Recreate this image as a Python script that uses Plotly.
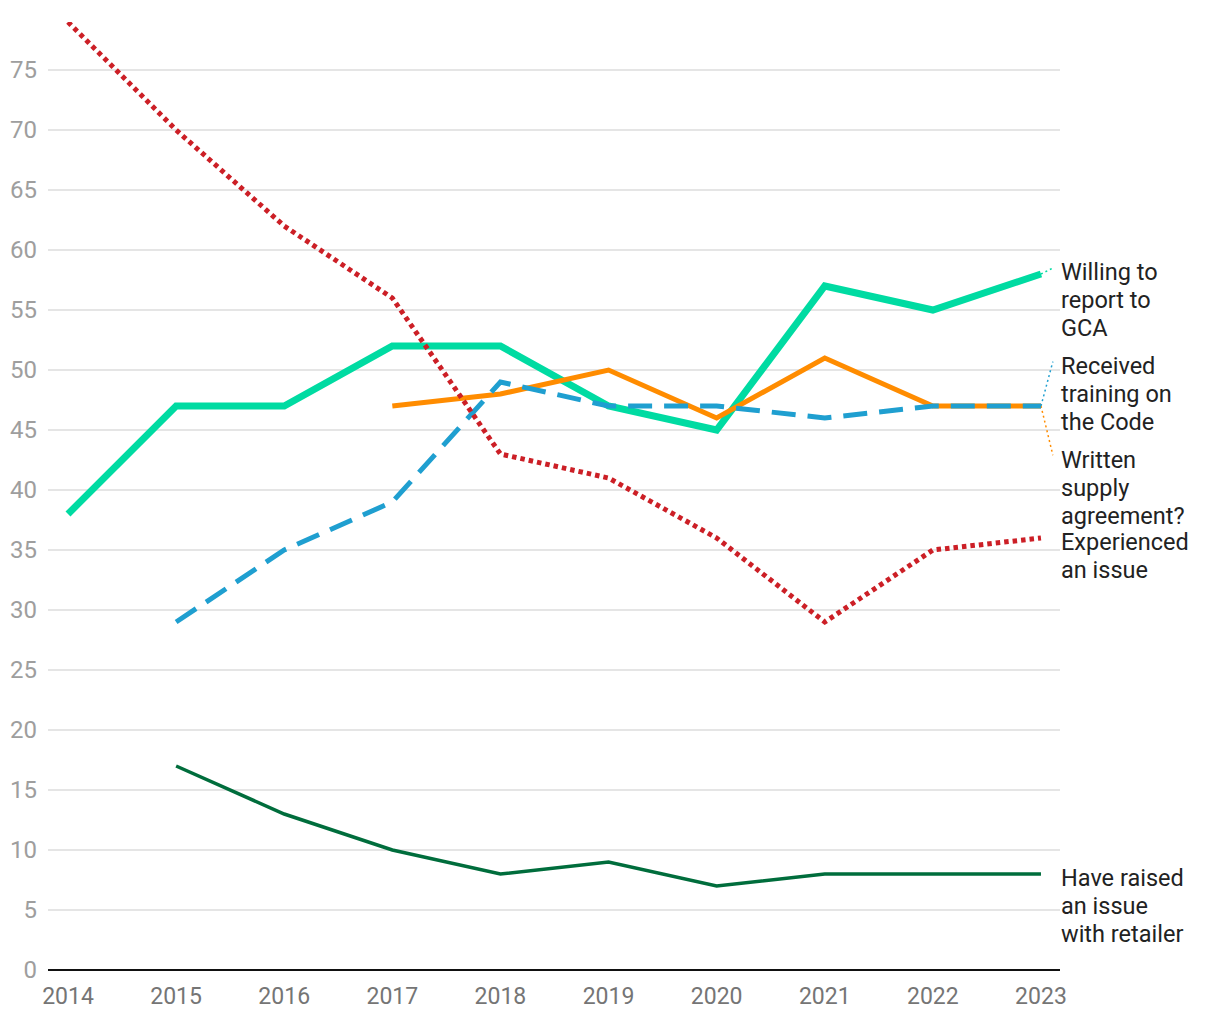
import plotly.graph_objects as go

years = [2014, 2015, 2016, 2017, 2018, 2019, 2020, 2021, 2022, 2023]

willing = [38, 47, 47, 52, 52, 47, 45, 57, 55, 58]
training = [None, 29, 35, 39, 49, 47, 47, 46, 47, 47]
written = [None, None, None, 47, 48, 50, 46, 51, 47, 47]
experienced = [79, 70, 62, 56, 43, 41, 36, 29, 35, 36]
raised = [None, 17, 13, 10, 8, 9, 7, 8, 8, 8]

labels = [["Willing to", "report to", "GCA"],
          ["Received", "training on", "the Code"],
          ["Written", "supply", "agreement?"],
          ["Experienced", "an issue"],
          ["Have raised", "an issue", "with retailer"]]
label_y = [58.17, 50.33, 42.5, 35.67, 7.67]     # centre of first line of each label
line_step = 2.333                               # spacing between label lines (data units)
connector_y = [58.5, 50.7, 42.9]                # where the leader lines end

C_WILL = "#00dba2"
C_TRAIN = "#1f9fd0"
C_WRIT = "#ff8c00"
C_EXP = "#cc1f26"
C_RAISE = "#006d3c"

fig = go.Figure()

# leader lines
for vals, cy, col in [(willing, connector_y[0], C_WILL),
                      (training, connector_y[1], C_TRAIN),
                      (written, connector_y[2], C_WRIT)]:
    fig.add_trace(go.Scatter(x=[years[-1], years[-1] + 0.11], y=[vals[-1], cy],
                             mode="lines", line=dict(color=col, width=1.5, dash="2px,3px"),
                             hoverinfo="skip", showlegend=False))

fig.add_trace(go.Scatter(x=years, y=willing, mode="lines", name="Willing to report to GCA",
                         line=dict(color=C_WILL, width=7)))
fig.add_trace(go.Scatter(x=years, y=written, mode="lines", name="Written supply agreement?",
                         line=dict(color=C_WRIT, width=5)))
fig.add_trace(go.Scatter(x=years, y=training, mode="lines", name="Received training on the Code",
                         line=dict(color=C_TRAIN, width=5, dash="24px,12px")))
fig.add_trace(go.Scatter(x=years, y=experienced, mode="lines", name="Experienced an issue",
                         line=dict(color=C_EXP, width=5, dash="4.5px,4px")))
fig.add_trace(go.Scatter(x=years, y=raised, mode="lines", name="Have raised an issue with retailer",
                         line=dict(color=C_RAISE, width=3.5)))

for lines, y0 in zip(labels, label_y):
    for i, txt in enumerate(lines):
        fig.add_annotation(x=years[-1], y=y0 - i * line_step, xref="x", yref="y", text=txt,
                           showarrow=False, xanchor="left", yanchor="middle", align="left",
                           xshift=18, font=dict(family="Roboto", size=23.5, color="#222222"))

fig.update_layout(
    width=1220, height=1020,
    margin=dict(l=40, r=168, t=14, b=58),
    plot_bgcolor="white", paper_bgcolor="white",
    showlegend=False,
    font=dict(family="Roboto"),
)
fig.update_xaxes(range=[2013.815, 2023.176], tickvals=years, ticktext=[str(y) for y in years],
                 showgrid=False, zeroline=False, showline=False, automargin=False,
                 tickfont=dict(size=23, color="#757575"), ticks="", ticklabelstandoff=10)
fig.update_yaxes(range=[0, 79], tickvals=list(range(0, 80, 5)), showgrid=True,
                 gridcolor="#e5e5e5", gridwidth=1.5, zeroline=True, zerolinecolor="#111111",
                 zerolinewidth=2, tickfont=dict(size=24, color="#9e9e9e"), ticks="",
                 ticklabelstandoff=10, showline=False, automargin=False)

fig.write_html("out.html")
